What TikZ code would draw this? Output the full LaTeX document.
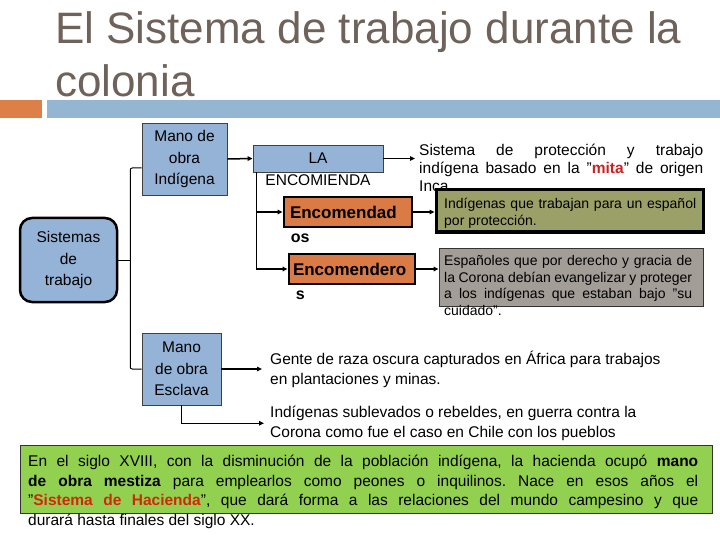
\documentclass[tikz,border=0pt]{standalone}
\usepackage{fontspec}
\setmainfont{Liberation Sans}
\usepackage{xcolor}
\usetikzlibrary{arrows.meta}
\definecolor{titlegray}{RGB}{110,98,90}
\definecolor{barorange}{RGB}{221,128,71}
\definecolor{barblue}{RGB}{148,182,210}
\definecolor{boxblue}{RGB}{149,179,215}
\definecolor{boxorange}{RGB}{218,122,68}
\definecolor{boxolive}{RGB}{155,160,105}
\definecolor{boxgray}{RGB}{163,157,152}
\definecolor{boxgreen}{RGB}{146,208,80}
\definecolor{mitared}{RGB}{204,32,32}
\definecolor{hacred}{RGB}{210,40,10}
\newcommand{\sizefont}[2]{\fontsize{#1}{#2}\selectfont}
\newcommand{\dq}{\symbol{34}}
\hyphenpenalty=10000
\exhyphenpenalty=10000
\frenchspacing

\begin{document}
\begin{tikzpicture}[x=1pt, y=-1pt,
    bluebox/.style={draw=black!75, line width=0.8pt, fill=boxblue, align=center,
      inner sep=0pt, font=\sizefont{15.5}{21.5}},
    orangebox/.style={draw=black, line width=2.8pt, fill=boxorange, inner sep=0pt,
      align=left, font=\sizefont{17}{20}\bfseries},
    plaintext/.style={anchor=north west, inner sep=0pt, align=left,
      font=\sizefont{15.5}{19.5}},
    justtext/.style={anchor=north west, inner sep=0pt, align=justify},
    arr/.style={line width=1.5pt, -{Triangle[length=5pt,width=4.5pt]}},
    tree/.style={line width=1pt, rounded corners=2pt}]
  \useasboundingbox (0,0) rectangle (720,540);

  % title and bars
  \node[anchor=north west, inner sep=0pt, align=left, text=titlegray,
    font=\sizefont{44}{53}] (title) at (55,11) {El Sistema de trabajo durante la\\colonia};
  \fill[barorange] (0,100) rectangle (42,118);
  \fill[barblue] (47,100) rectangle (720,118);

  % left tree
  \node[bluebox, minimum width=97, minimum height=84, rounded corners=12pt,
    draw=black, line width=2.5pt] (sist) at (68.5,260) {Sistemas\\de\\trabajo};
  \node[bluebox, minimum width=85, minimum height=72] (indig) at (184.5,159) {Mano de\\obra\\Indígena};
  \node[bluebox, minimum width=79, minimum height=72] (escl) at (181.5,369) {Mano\\de obra\\Esclava};
  \draw[tree] (sist.east) -- ++(12,0) coordinate (fork);
  \draw[tree] ([yshift=-9pt]indig.west) -| (fork) |- (escl.west);

  % la encomienda
  \node[bluebox, minimum width=130, minimum height=27,
    label={[inner sep=0pt, label distance=2.5pt, font=\sizefont{15.5}{18}]below:ENCOMIENDA}] (encom) at (318,158.5) {LA};
  \node[orangebox, minimum width=128, minimum height=30, text width=116,
    label={[anchor=north west, inner sep=0pt, xshift=8pt, yshift=-5pt,
      font=\sizefont{16}{19}\bfseries]south west:os}] (encdos) at (348,212) {Encomendad};
  \node[orangebox, minimum width=126, minimum height=30, text width=118,
    label={[anchor=north west, inner sep=0pt, xshift=8pt, yshift=-5pt,
      font=\sizefont{16}{19}\bfseries]south west:s}] (encros) at (352,269) {Encomendero};

  \node[justtext, text width=284, font=\sizefont{15.5}{18}] (sistxt) at (419,144)
    {Sistema de protección y trabajo\linebreak indígena basado en la \dq\textcolor{mitared}{\textbf{mita}}\dq{} de origen\linebreak Inca.};

  \node[draw=black, line width=3pt, fill=boxolive, minimum width=267, minimum height=42,
    inner sep=0pt] (prot) at (569.5,211) {};
  \node[justtext, text width=252, font=\sizefont{14}{17}] (prottxt) at (444,198)
    {Indígenas que trabajan para un español\linebreak por protección.};
  \node[draw=black!80, line width=0.8pt, fill=boxgray, minimum width=264, minimum height=58,
    inner sep=0pt] (esp) at (571,277) {};
  \node[justtext, text width=248, font=\sizefont{14}{16.7}] (esptxt) at (444,255)
    {Españoles que por derecho y gracia de\linebreak la Corona debían evangelizar y proteger\linebreak a los indígenas que estaban bajo \dq su\linebreak cuidado\dq.};

  \draw[arr] (indig.east) -- (encom.west);
  \draw[arr, shorten >=4pt] (encom.east) -- (encom.east -| sistxt.west);
  \draw[arr] ([xshift=4pt]encom.south west) |- (encdos.west);
  \draw[arr] ([xshift=4pt]encom.south west) |- (encros.west);
  \draw[arr] (encdos.east) -- (encdos.east -| prot.west);
  \draw[arr] (encros.east) -- (encros.east -| esp.west);

  % mano de obra esclava
  \node[plaintext] (gente) at (270,351)
    {Gente de raza oscura capturados en África para trabajos\\en plantaciones y minas.};
  \node[plaintext] (subl) at (270,406)
    {Indígenas sublevados o rebeldes, en guerra contra la\\Corona como fue el caso en Chile con los pueblos};
  \draw[arr, shorten >=8pt] (escl.east) -- (escl.east -| gente.west);
  \draw[arr, shorten >=6pt] (escl.south) |- (subl.west);

  % hacienda
  \node[draw=black!80, line width=0.8pt, fill=boxgreen, minimum width=692, minimum height=68,
    inner sep=0pt] (hac) at (366,479) {};
  \node[justtext, text width=670, font=\sizefont{15.5}{19.6}] (hactxt) at (28,455)
    {En el siglo XVIII, con la disminución de la población indígena, la hacienda ocupó \textbf{mano}\linebreak
     \textbf{de obra mestiza} para emplearlos como peones o inquilinos. Nace en esos años el\linebreak
     \dq\textcolor{hacred}{\textbf{Sistema de Hacienda}}\dq, que dará forma a las relaciones del mundo campesino y que\linebreak
     durará hasta finales del siglo XX.};
\end{tikzpicture}
\end{document}
